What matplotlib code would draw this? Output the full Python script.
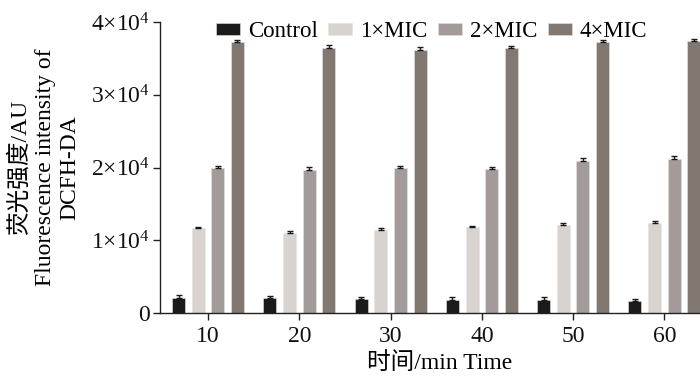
import numpy as np
import matplotlib
matplotlib.use("Agg")
import matplotlib.pyplot as plt

plt.rcParams['font.family'] = ['Liberation Serif', 'Noto Sans CJK SC', 'DejaVu Sans']
plt.rcParams['mathtext.fontset'] = 'custom'
plt.rcParams['mathtext.rm'] = 'Liberation Serif'
plt.rcParams['mathtext.it'] = 'Liberation Serif:italic'
plt.rcParams['mathtext.default'] = 'rm'

times = [10, 20, 30, 40, 50, 60]
series_names = ["Control", "1×MIC", "2×MIC", "4×MIC"]
control = [2100, 2000, 1900, 1800, 1800, 1650]
mic1 = [11650, 11000, 11400, 11800, 12100, 12400]
mic2 = [20000, 19700, 19900, 19800, 20900, 21100]
mic4 = [37300, 36400, 36200, 36400, 37300, 37400]
control_err = [400, 350, 350, 450, 350, 300]
mic1_err = [150, 300, 280, 200, 320, 230]
mic2_err = [230, 330, 330, 300, 400, 450]
mic4_err = [270, 370, 330, 360, 260, 270]
y_ticks = [0, 10000, 20000, 30000, 40000]
y_ticklabels = ["0", r"$1{\times}10^{4}$", r"$2{\times}10^{4}$", r"$3{\times}10^{4}$", r"$4{\times}10^{4}$"]

colors = ["#1c1b19", "#d9d3d0", "#a39b99", "#817872"]
values = [control, mic1, mic2, mic4]
errs = [control_err, mic1_err, mic2_err, mic4_err]
offsets = [-3.23, -1.07, 1.07, 3.23]
width = 1.42

fig = plt.figure(figsize=(7.0, 3.76), dpi=100)
ax = fig.add_axes([160/700, 63/376, 540/700, 291/376])

x = np.array(times, dtype=float)
for name, vals, err, off, c in zip(series_names, values, errs, offsets, colors):
    ax.bar(x + off, vals, width=width, color=c, edgecolor="#e6e2df", linewidth=0.4,
           label=name, zorder=2)
    ax.errorbar(x + off, vals, yerr=[np.zeros(len(err)), err], fmt="none",
                ecolor="#1a1a1a", elinewidth=1.0, capsize=2.5, capthick=1.0, zorder=3)

ax.set_xlim(4.74, 63.9)
ax.set_ylim(0, 40000)
ax.set_xticks(times)
ax.set_xticklabels([str(t) for t in times])
ax.set_yticks(y_ticks)
ax.set_yticklabels(y_ticklabels)
ax.spines['top'].set_visible(False)
ax.spines['right'].set_visible(False)
for s in ['left', 'bottom']:
    ax.spines[s].set_linewidth(1.0)
    ax.spines[s].set_color("#222222")
ax.tick_params(axis='both', direction='out', length=5, width=1.0, labelsize=17,
               colors="#222222", labelcolor="#111111")
ax.tick_params(axis='y', pad=2)
ax.tick_params(axis='x', pad=4)

ax.set_xlabel("时间/min Time", fontsize=17, labelpad=1)
ax.xaxis.set_label_coords(0.518, -0.135)
ax.set_ylabel("荧光强度/AU\nFluorescence intensity of\nDCFH-DA", fontsize=17,
              linespacing=1.22, labelpad=8)

leg = ax.legend(loc="upper center", bbox_to_anchor=(0.503, 1.035), ncol=4, frameon=False,
                fontsize=16.5, handlelength=1.05, handleheight=0.45, handletextpad=0.35,
                columnspacing=0.45, borderaxespad=0)

fig.savefig("out.png", dpi=100)
